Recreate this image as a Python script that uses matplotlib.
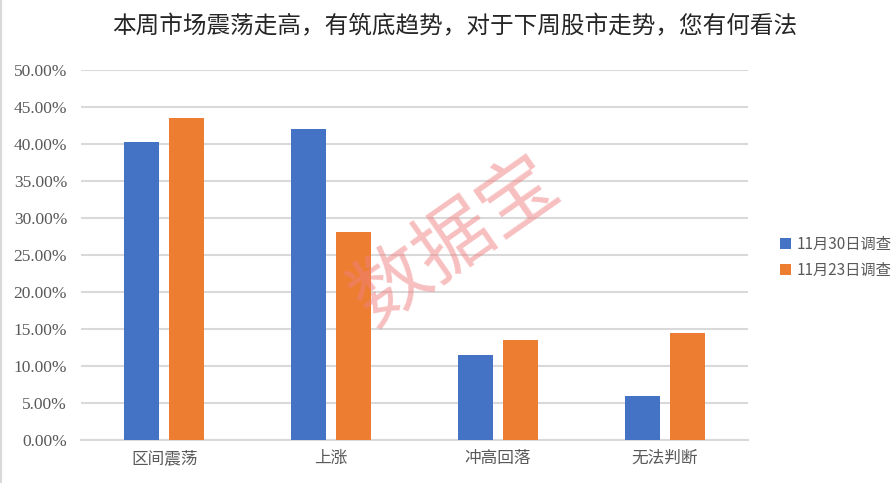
import numpy as np
import matplotlib.pyplot as plt
from matplotlib.ticker import FuncFormatter

plt.rcParams['font.family'] = ['Noto Sans CJK SC', 'DejaVu Sans']

# data
categories = ['区间震荡', '上涨', '冲高回落', '无法判断']
nov30 = [40.27, 42.03, 11.5, 5.95]
nov23 = [43.5, 28.1, 13.5, 14.46]
series_names = ['11月30日调查', '11月23日调查']
title = '本周市场震荡走高，有筑底趋势，对于下周股市走势，您有何看法'

blue = '#4472c4'
orange = '#ed7d31'
grid_c = '#d9d9d9'
text_c = '#595959'

fig = plt.figure(figsize=(8.94, 4.83), dpi=100)
ax = fig.add_axes([0.0906, 0.089, 0.746, 0.766])

x = np.arange(len(categories))
w = 0.21
off = 0.135
ax.bar(x - off, np.array(nov30) / 100, w, color=blue, label=series_names[0], zorder=3)
ax.bar(x + off, np.array(nov23) / 100, w, color=orange, label=series_names[1], zorder=3)

ax.set_xlim(-0.5, 3.5)
ax.set_ylim(0, 0.5)
ax.set_yticks(np.arange(0, 0.51, 0.05))
ax.yaxis.set_major_formatter(FuncFormatter(lambda v, p: '%.2f%%' % (v * 100)))
ax.set_xticks(x)
ax.set_xticklabels(categories, fontsize=12, color=text_c)
for lab in ax.get_yticklabels():
    lab.set_family(['Liberation Serif', 'DejaVu Serif'])
    lab.set_fontsize(12.5)
    lab.set_color(text_c)

ax.grid(axis='y', color=grid_c, linewidth=1.5, zorder=0)
ax.tick_params(axis='y', length=0, pad=10)
ax.tick_params(axis='x', length=0, pad=7)
for s in ['top', 'right', 'left']:
    ax.spines[s].set_visible(False)
ax.spines['bottom'].set_color(grid_c)
ax.spines['bottom'].set_linewidth(1.5)

fig.text(0.509, 0.944, title, ha='center', va='center', fontsize=17, color='#262626')

fig.legend(loc='center left', bbox_to_anchor=(0.857, 0.467), frameon=False,
           fontsize=11, handlelength=0.7, handleheight=0.7, handletextpad=0.4,
           labelspacing=0.6, labelcolor=text_c)

# watermark
fig.text(0.51, 0.5, '数据宝', ha='center', va='center', fontsize=56, rotation=35,
         color='#f08080', alpha=0.5, zorder=10)

fig.add_artist(plt.Line2D([0.001, 0.001], [0, 1], color=grid_c, linewidth=1.5))

fig.savefig('out.png', dpi=100, facecolor='white')
